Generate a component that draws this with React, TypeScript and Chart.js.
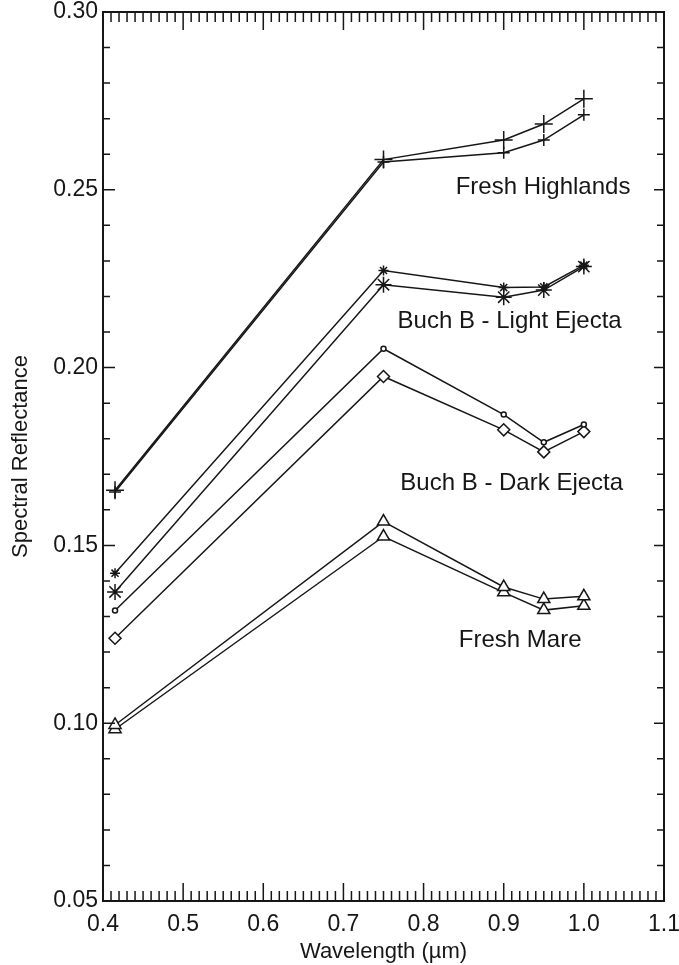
import React, { useEffect, useRef } from "react";
import { Chart, registerables } from "chart.js";
Chart.register(...registerables);

const wavelengths = [0.415, 0.75, 0.9, 0.95, 1.0];
const highlandsA = [0.1655, 0.2585, 0.264, 0.2685, 0.2756];
const highlandsB = [0.165, 0.2578, 0.2604, 0.264, 0.2711];
const lightEjectaA = [0.1422, 0.2273, 0.2225, 0.2227, 0.2288];
const lightEjectaB = [0.1369, 0.2233, 0.2198, 0.2218, 0.2284];
const darkEjectaA = [0.1317, 0.2053, 0.1868, 0.179, 0.184];
const darkEjectaB = [0.1239, 0.1975, 0.1825, 0.1763, 0.182];
const mareA = [0.0995, 0.1567, 0.1383, 0.1349, 0.1357];
const mareB = [0.0983, 0.1525, 0.1368, 0.1318, 0.133];

const labelTexts = ["Fresh Highlands", "Buch B - Light Ejecta", "Buch B - Dark Ejecta", "Fresh Mare"];
const labelX = [0.84, 0.7675, 0.771, 0.844];
const labelY = [0.2508, 0.2129, 0.1674, 0.1233];

const xMin = 0.4, xMax = 1.1, xStep = 0.1;
const yMin = 0.05, yMax = 0.3, yStep = 0.05;

const INK = "#161616";
const FONT = "'Liberation Sans', Arial, Helvetica, sans-serif";

const frameTicks = {
  id: "frameTicks",
  afterDatasetsDraw(chart: any) {
    const { ctx, chartArea: a, scales } = chart;
    const xs = scales.x, ys = scales.y;
    ctx.save();
    ctx.strokeStyle = INK;
    ctx.lineWidth = 2;
    ctx.strokeRect(a.left, a.top, a.right - a.left, a.bottom - a.top);
    ctx.lineWidth = 1.5;
    ctx.beginPath();
    for (let i = Math.round(xMin * 100); i <= Math.round(xMax * 100); i++) {
      const px = xs.getPixelForValue(i / 100);
      const len = i % 10 === 0 ? 18 : 10;
      ctx.moveTo(px, a.bottom);
      ctx.lineTo(px, a.bottom - len);
      ctx.moveTo(px, a.top);
      ctx.lineTo(px, a.top + len);
    }
    for (let i = Math.round(yMin * 100); i <= Math.round(yMax * 100); i++) {
      const py = ys.getPixelForValue(i / 100);
      const major = i % 5 === 0;
      ctx.moveTo(a.left, py);
      ctx.lineTo(a.left + (major ? 12 : 7), py);
      ctx.moveTo(a.right, py);
      ctx.lineTo(a.right - (major ? 10 : 7), py);
    }
    ctx.stroke();
    ctx.restore();
  },
};

const curveLabels = {
  id: "curveLabels",
  afterDatasetsDraw(chart: any) {
    const { ctx, scales } = chart;
    ctx.save();
    ctx.fillStyle = INK;
    ctx.font = `24px ${FONT}`;
    ctx.textAlign = "left";
    ctx.textBaseline = "middle";
    labelTexts.forEach((t, i) => {
      ctx.fillText(t, scales.x.getPixelForValue(labelX[i]), scales.y.getPixelForValue(labelY[i]));
    });
    ctx.restore();
  },
};

function ds(values: number[], style: string, radius: number) {
  return {
    data: wavelengths.map((w, i) => ({ x: w, y: values[i] })),
    borderColor: INK,
    borderWidth: 1.5,
    pointStyle: style,
    pointRadius: radius,
    pointBorderColor: INK,
    pointBorderWidth: 1.5,
    pointBackgroundColor: "#ffffff",
    fill: false,
    tension: 0,
  };
}

function zeroPad(s: any) {
  s.paddingLeft = 0;
  s.paddingRight = 0;
  s.paddingTop = 0;
  s.paddingBottom = 0;
}

export default function App() {
  const ref = useRef<HTMLCanvasElement>(null);
  useEffect(() => {
    document.body.style.margin = "0";
    const chart = new Chart(ref.current as HTMLCanvasElement, {
      type: "line",
      data: {
        datasets: [
          ds(highlandsA, "cross", 9),
          ds(highlandsB, "cross", 6),
          ds(lightEjectaA, "star", 5),
          ds(lightEjectaB, "star", 8),
          ds(darkEjectaA, "circle", 2.5),
          ds(darkEjectaB, "rectRot", 6),
          ds(mareA, "triangle", 7),
          ds(mareB, "triangle", 7),
        ] as any,
      },
      options: {
        animation: false,
        responsive: false,
        devicePixelRatio: 1,
        layout: { padding: { top: 12, right: 15, left: 0, bottom: 0 } },
        plugins: { legend: { display: false }, tooltip: { enabled: false } },
        scales: {
          x: {
            type: "linear",
            min: xMin,
            max: xMax,
            grid: { display: false, drawTicks: false },
            border: { display: false },
            ticks: {
              stepSize: xStep,
              color: INK,
              padding: 10,
              maxRotation: 0,
              font: { family: FONT, size: 23 },
              callback: (v: any) => Number(v).toFixed(1),
            },
            title: {
              display: true,
              text: "Wavelength (\u00b5m)",
              color: INK,
              font: { family: FONT, size: 22 },
              padding: { top: 0, bottom: 0 },
            },
            afterFit: (s: any) => { s.height = 64; zeroPad(s); },
          },
          y: {
            type: "linear",
            min: yMin,
            max: yMax,
            grid: { display: false, drawTicks: false },
            border: { display: false },
            ticks: {
              stepSize: yStep,
              color: INK,
              padding: 5,
              font: { family: FONT, size: 23, lineHeight: 1 },
              callback: (v: any) => Number(v).toFixed(2),
            },
            title: {
              display: true,
              text: "Spectral Reflectance",
              color: INK,
              font: { family: FONT, size: 22 },
              padding: { top: 8, bottom: 0 },
            },
            afterFit: (s: any) => { s.width = 103; zeroPad(s); },
          },
        },
      } as any,
      plugins: [frameTicks, curveLabels],
    });
    return () => chart.destroy();
  }, []);
  return <canvas ref={ref} width={679} height={965} style={{ display: "block", width: 679, height: 965 }} />;
}
